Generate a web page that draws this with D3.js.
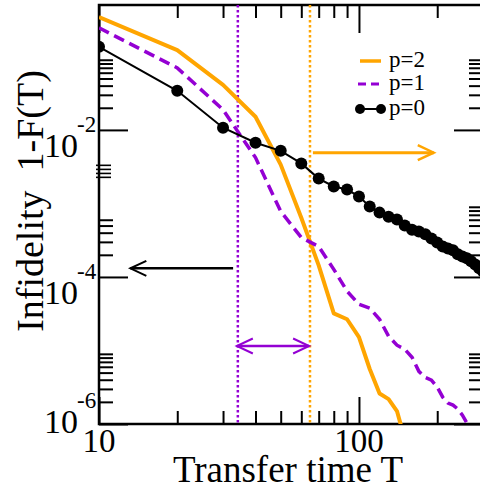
<!DOCTYPE html>
<html><head><meta charset="utf-8">
<script src="https://cdn.jsdelivr.net/npm/d3@7/dist/d3.min.js"></script>
<style>
html,body{margin:0;padding:0;background:#fff;}
svg{display:block;}
text{font-family:"Liberation Serif","DejaVu Serif",serif;fill:#000;}
</style></head><body>
<svg id="chart" width="480" height="491"></svg>
<script>
// ---------- data ----------
const T0 = [10,20,30,40,50,60,70,80,90,100,110,120,130,140,150,160,170,180,190,200,210,220,230,240,250,260,270,280,290,300];
const p0 = [0.135,0.034,0.0107,6.7e-3,5.2e-3,3.5e-3,2.18e-3,1.7e-3,1.55e-3,1.24e-3,
            9.1e-4,7.5e-4,6.6e-4,6.05e-4,5.0e-4,4.4e-4,4.15e-4,3.8e-4,3.34e-4,2.95e-4,
            2.6e-4,2.44e-4,2.3e-4,2.03e-4,1.9e-4,1.79e-4,1.63e-4,1.48e-4,1.31e-4,1.19e-4];
const T1 = [10,20,30,40,50,60,70,80,90,100,110,120,130,140,150,160,170,180,190,200,210,220,230,240,250,260,270];
const p1 = [0.244,0.0698,0.0188,4.2e-3,7.8e-4,3.44e-4,2.6e-4,1.27e-4,6.4e-5,4.25e-5,
            3.75e-5,2.66e-5,1.56e-5,1.18e-5,1.04e-5,8.1e-6,5.2e-6,4.3e-6,3.95e-6,3.18e-6,
            2.32e-6,1.93e-6,1.81e-6,1.6e-6,1.32e-6,1.03e-6,8.0e-7];
const T2 = [10,20,30,40,50,60,70,80,90,100,110,120,130,140,150];
const p2 = [0.343,0.122,0.041,0.0151,3.37e-3,6.4e-4,1.44e-4,3.2e-5,2.66e-5,1.52e-5,5.6e-6,2.6e-6,2.18e-6,1.5e-6,6.3e-7];

const legendLabels = ["p=2","p=1","p=0"];
const vLineP1 = 34.2, vLineP2 = 64.8;          // dotted vertical lines (T)
const arrowOrange = {t0:66.5, t1:194, v:4.9e-3};
const arrowBlack  = {t0:32.8, t1:13.2, v:1.31e-4};
const arrowPurple = {t0:33.9, t1:64.3, v:1.15e-5};

const xMajor = [10,100];
const xMinor = [20,30,40,50,60,70,80,90,200,300];
const xTickLabels = ["10","100"];
const yMajor = [1e-6,1e-4,1e-2];
const yMajorExp = ["-6","-4","-2"];
const yMinorRight = [2e-6,3e-6,4e-6,5e-6,6e-6,7e-6,8e-6,9e-6,2e-4,3e-4,4e-4,5e-4,6e-4,7e-4,8e-4,9e-4,2e-2,3e-2,4e-2,5e-2,6e-2,7e-2,8e-2,9e-2];
const yMinorLeft  = [2e-6,3e-6,4e-6,5e-6,6e-6,7e-6,8e-6,9e-6,2e-4,3e-4,4e-4,5e-4,6e-4,2e-2,3e-2,4e-2,5e-2,6e-2,7e-2,8e-2,9e-2];
const yOddLeft    = [2.3e-3,2.6e-3,2.95e-3,3.35e-3];

// ---------- layout ----------
const L=99, R=483, TOP=5, B=424;
const ORANGE="#FFA500", VIOLET="#9400D3";
const svg = d3.select("#chart");
const x = d3.scaleLog().domain([10,300]).range([L,R]);
const y = d3.scaleLog().domain([1e-6,0.5]).range([B,TOP]);

svg.append("defs").append("clipPath").attr("id","clip")
  .append("rect").attr("x",L).attr("y",TOP).attr("width",R-L).attr("height",B-TOP);

// axes ticks
function ticks(axis, tf, w){
  const g = svg.append("g").attr("transform",tf).call(axis);
  g.select(".domain").remove();
  g.selectAll(".tick line").attr("stroke","#000").attr("stroke-width",w);
  g.selectAll(".tick text").remove();
  return g;
}
ticks(d3.axisBottom(x).tickValues(xMajor).tickSize(-27).tickFormat(""),`translate(0,${B})`,2);
ticks(d3.axisBottom(x).tickValues(xMinor).tickSize(-13).tickFormat(""),`translate(0,${B})`,2);
ticks(d3.axisTop(x).tickValues(xMajor).tickSize(-28).tickFormat(""),`translate(0,${TOP})`,2);
ticks(d3.axisTop(x).tickValues(xMinor).tickSize(-13).tickFormat(""),`translate(0,${TOP})`,2);
ticks(d3.axisLeft(y).tickValues(yMajor).tickSize(-29).tickFormat(""),`translate(${L},0)`,2);
ticks(d3.axisLeft(y).tickValues(yMinorLeft).tickSize(-14).tickFormat(""),`translate(${L},0)`,2);
const odd = ticks(d3.axisLeft(y).tickValues(yOddLeft).tickSize(-12).tickFormat(""),`translate(${L},0)`,1.6);
odd.selectAll(".tick line").attr("x1",-3);
ticks(d3.axisRight(y).tickValues(yMajor).tickSize(-29).tickFormat(""),`translate(${R},0)`,2);
ticks(d3.axisRight(y).tickValues(yMinorRight).tickSize(-14).tickFormat(""),`translate(${R},0)`,2);

// frame
svg.append("rect").attr("x",L).attr("y",TOP).attr("width",R-L).attr("height",B-TOP)
  .attr("fill","none").attr("stroke","#000").attr("stroke-width",2.5);

// tick labels
xMajor.forEach((v,i)=>{
  svg.append("text").attr("x",x(v)).attr("y",452).attr("text-anchor","middle")
    .attr("font-size",33).text(xTickLabels[i]);
});
yMajor.forEach((v,i)=>{
  const shift = (i===0) ? -18 : 0;
  svg.append("text").attr("x",78).attr("y",y(v)+27+shift).attr("text-anchor","end")
    .attr("font-size",34).text("10");
  svg.append("text").attr("x",77).attr("y",y(v)+2+shift).attr("text-anchor","start")
    .attr("font-size",23).text(yMajorExp[i]);
});

// titles
svg.append("text").attr("x",288).attr("y",482).attr("text-anchor","middle")
  .attr("font-size",37).text("Transfer time T");
svg.append("text").attr("transform","translate(43,201) rotate(-90)").attr("text-anchor","middle")
  .attr("font-size",38).style("white-space","pre").text("Infidelity  1-F(T)");

// data
const plot = svg.append("g").attr("clip-path","url(#clip)");
const line = d3.line().x(d=>x(d[0])).y(d=>y(d[1]));
// dotted vertical lines
[[vLineP1,VIOLET],[vLineP2,ORANGE]].forEach(([t,c])=>{
  plot.append("line").attr("x1",x(t)).attr("x2",x(t)).attr("y1",TOP).attr("y2",B)
    .attr("stroke",c).attr("stroke-width",2.5).attr("stroke-dasharray","2.5,2.5");
});
plot.append("path").datum(T2.map((t,i)=>[t,p2[i]])).attr("d",line)
  .attr("fill","none").attr("stroke",ORANGE).attr("stroke-width",4).attr("stroke-linejoin","round");
plot.append("path").datum(T1.map((t,i)=>[t,p1[i]])).attr("d",line)
  .attr("fill","none").attr("stroke",VIOLET).attr("stroke-width",3.5).attr("stroke-dasharray","11,6");
const d0 = T0.map((t,i)=>[t,p0[i]]);
plot.append("path").datum(d0).attr("d",line)
  .attr("fill","none").attr("stroke","#000").attr("stroke-width",2);
plot.selectAll("circle.p0").data(d0).enter().append("circle").attr("class","p0")
  .attr("cx",d=>x(d[0])).attr("cy",d=>y(d[1])).attr("r",6).attr("fill","#000");

// arrows
function arrow(a, color, w, both){
  const x0=x(a.t0), x1=x(a.t1), yy=y(a.v);
  svg.append("line").attr("x1",x0).attr("x2",x1).attr("y1",yy).attr("y2",yy)
    .attr("stroke",color).attr("stroke-width",w);
  const head=(xt,dir)=>{
    svg.append("path").attr("d",`M${xt-dir*16},${yy-7.5}L${xt},${yy}L${xt-dir*16},${yy+7.5}`)
      .attr("fill","none").attr("stroke",color).attr("stroke-width",w*0.8);
  };
  head(x1, Math.sign(x1-x0));
  if(both) head(x0, Math.sign(x0-x1));
}
arrow(arrowOrange, ORANGE, 3, false);
arrow(arrowBlack, "#000", 2.5, false);
arrow(arrowPurple, VIOLET, 2.5, true);

// legend
const lg = svg.append("g");
const rows=[61,84,109];
lg.append("line").attr("x1",360).attr("x2",381).attr("y1",rows[0]).attr("y2",rows[0])
  .attr("stroke",ORANGE).attr("stroke-width",3.5);
lg.append("line").attr("x1",358).attr("x2",383).attr("y1",rows[1]).attr("y2",rows[1])
  .attr("stroke",VIOLET).attr("stroke-width",3).attr("stroke-dasharray","8,5");
lg.append("line").attr("x1",360).attr("x2",381).attr("y1",rows[2]).attr("y2",rows[2])
  .attr("stroke","#000").attr("stroke-width",2);
[360,381].forEach(cx=>lg.append("circle").attr("cx",cx).attr("cy",rows[2]).attr("r",5).attr("fill","#000"));
legendLabels.forEach((s,i)=>{
  lg.append("text").attr("x",389).attr("y",rows[i]+6).attr("font-size",23).text(s);
});
</script>
</body></html>
